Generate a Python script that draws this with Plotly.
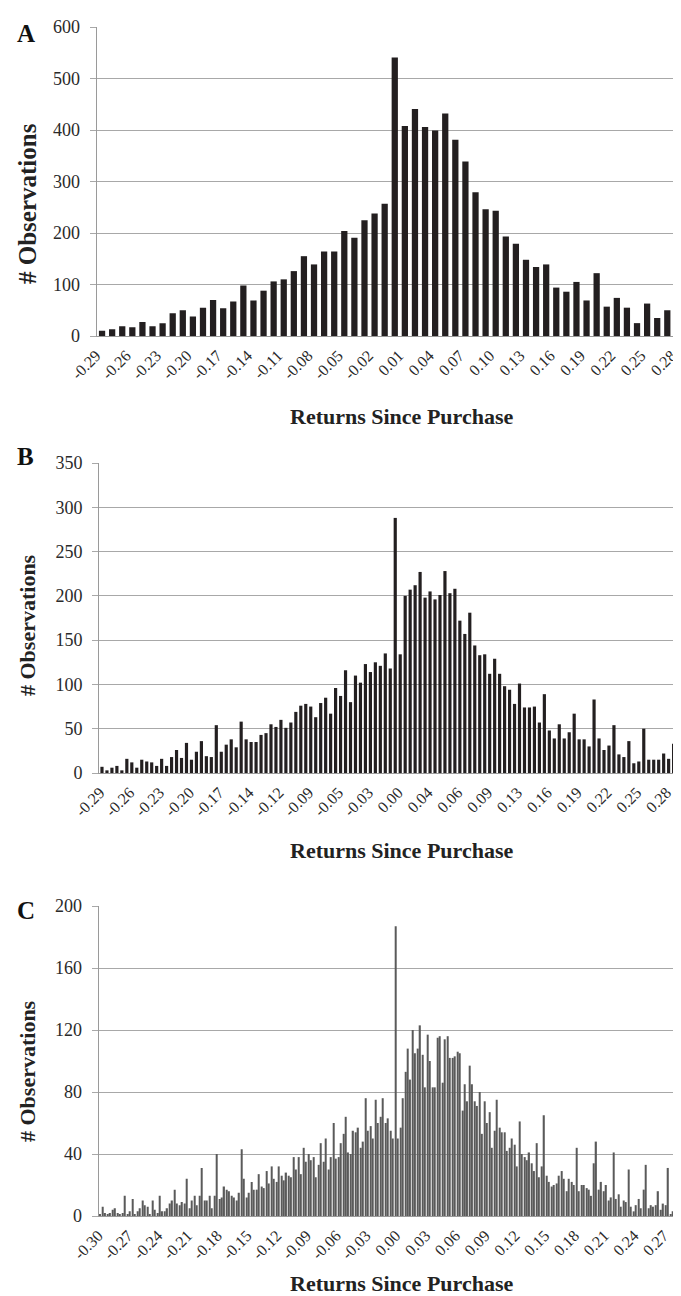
import plotly.graph_objects as go

# ---------------- data ----------------
A_bins = [f"{v / 100:.2f}" for v in range(-29, 30)]  # 59 bins, step 0.01
A_values = [10, 13, 19, 17, 27, 19, 25, 44, 50, 38,
            55, 70, 54, 67, 98, 69, 88, 106, 110, 126,
            155, 139, 164, 164, 204, 191, 225, 238, 257, 541,
            408, 441, 406, 399, 432, 381, 339, 279, 246, 243,
            193, 179, 148, 134, 139, 94, 86, 105, 69, 122,
            57, 74, 55, 25, 63, 35, 50, 14, 27]
A_ticks = A_bins[::3]
A_ticktext = A_bins[::3]

B_bins = [f"{-0.29 + 0.005 * i:.3f}" for i in range(119)]
B_values = [7, 3, 6, 8, 3, 16, 12, 6, 15, 13,
            12, 8, 16, 8, 18, 26, 17, 34, 15, 24,
            36, 19, 18, 54, 24, 32, 38, 29, 58, 38,
            35, 35, 43, 45, 55, 52, 60, 51, 57, 69,
            76, 78, 75, 63, 79, 85, 67, 96, 87, 116,
            80, 110, 102, 123, 114, 125, 121, 135, 118, 288,
            134, 200, 207, 212, 227, 198, 205, 196, 201, 228,
            203, 208, 172, 157, 181, 144, 133, 134, 112, 129,
            112, 98, 94, 78, 101, 74, 74, 75, 57, 89,
            48, 39, 55, 39, 46, 67, 38, 38, 30, 83,
            39, 26, 31, 54, 21, 18, 36, 11, 13, 50,
            15, 15, 15, 22, 16, 33, 5, 8, 19]
B_ticks = B_bins[::6]
B_ticktext = ["-0.29", "-0.26", "-0.23", "-0.20", "-0.17", "-0.14", "-0.12",
              "-0.09", "-0.05", "-0.03", "0.00", "0.04", "0.06", "0.09",
              "0.13", "0.16", "0.19", "0.22", "0.25", "0.28"]

C_bins = [f"{-0.30 + 0.0025 * i:.4f}" for i in range(238)]
C_values = [1, 6, 2, 1, 2, 4, 5, 2, 1, 2,
            13, 1, 3, 11, 1, 3, 5, 10, 7, 6,
            1, 10, 4, 2, 13, 3, 3, 5, 8, 10,
            17, 8, 7, 9, 8, 24, 5, 10, 13, 7,
            13, 31, 10, 10, 13, 5, 13, 40, 11, 12,
            19, 17, 16, 13, 12, 10, 15, 43, 24, 12,
            15, 22, 17, 17, 27, 19, 18, 29, 21, 32,
            24, 22, 32, 26, 23, 28, 26, 25, 38, 30,
            38, 27, 44, 35, 40, 36, 38, 25, 33, 47,
            35, 50, 30, 38, 60, 37, 38, 47, 53, 64,
            41, 40, 55, 54, 57, 44, 48, 76, 55, 58,
            50, 75, 60, 64, 76, 60, 63, 55, 50, 187,
            50, 57, 76, 93, 108, 88, 120, 105, 108, 123,
            104, 83, 117, 100, 83, 83, 115, 116, 86, 114,
            116, 102, 102, 103, 106, 105, 68, 85, 74, 97,
            85, 74, 71, 80, 53, 74, 60, 67, 44, 55,
            75, 57, 54, 54, 42, 44, 50, 46, 32, 61,
            40, 38, 36, 41, 34, 29, 47, 25, 32, 65,
            26, 22, 19, 20, 21, 26, 29, 24, 16, 24,
            22, 20, 44, 16, 20, 20, 18, 17, 13, 34,
            48, 17, 22, 16, 20, 10, 12, 41, 11, 14,
            6, 10, 9, 30, 6, 3, 7, 11, 5, 17,
            33, 5, 7, 6, 7, 16, 4, 8, 7, 31,
            1, 3, 2, 7, 14, 6, 5, 6]
C_ticks = C_bins[::12]
C_ticktext = ["-0.30", "-0.27", "-0.24", "-0.21", "-0.18", "-0.15", "-0.12",
              "-0.09", "-0.06", "-0.03", "0.00", "0.03", "0.06", "0.09",
              "0.12", "0.15", "0.18", "0.21", "0.24", "0.27"]

# ---------------- style ----------------
W, H = 681, 1296
FONT = "Liberation Serif, Times New Roman, serif"
BAR_DARK = "#231f20"
BAR_C = "#5a5a5a"
GRID = "#a8a8a8"
AXIS = "#9a9a9a"
TICKCOL = "#2a2a2a"


def py(pix):
    return 1 - pix / H


fig = go.Figure()
fig.add_trace(go.Bar(x=A_bins, y=A_values, marker=dict(color=BAR_DARK, line=dict(width=0)),
                     width=0.62, xaxis="x", yaxis="y", showlegend=False))
fig.add_trace(go.Bar(x=B_bins, y=B_values, marker=dict(color=BAR_DARK, line=dict(width=0)),
                     width=0.64, xaxis="x2", yaxis="y2", showlegend=False))
fig.add_trace(go.Bar(x=C_bins, y=C_values, marker=dict(color=BAR_C, line=dict(width=0)),
                     width=0.5, xaxis="x3", yaxis="y3", showlegend=False))


def xax(left_px, rng, tickvals, ticktext, anchor, shift):
    return dict(domain=[left_px / W, 1], anchor=anchor, type="category", range=rng,
                tickmode="array", tickvals=tickvals, ticktext=ticktext, tickangle=-45,
                tickfont=dict(family=FONT, size=16, color=TICKCOL),
                showgrid=False, showline=True, linecolor=AXIS, linewidth=1,
                ticks="outside", ticklen=3, tickcolor="rgba(0,0,0,0)",
                ticklabelshift=shift,
                zeroline=False, automargin=False, fixedrange=True)


def yax(top_px, bot_px, rng, dtick, anchor):
    return dict(domain=[py(bot_px), py(top_px)], anchor=anchor, range=rng, dtick=dtick,
                tickmode="linear", tick0=0,
                tickfont=dict(family=FONT, size=18, color=TICKCOL),
                showgrid=True, gridcolor=GRID, gridwidth=1,
                showline=True, linecolor=AXIS, linewidth=1,
                ticks="outside", ticklen=6, tickcolor=GRID, ticklabelstandoff=6,
                zeroline=False, automargin=False, fixedrange=True)


fig.update_layout(
    width=W, height=H,
    margin=dict(l=0, r=0, t=0, b=0),
    paper_bgcolor="white", plot_bgcolor="white",
    bargap=0.35,
    xaxis=xax(88.5, [-0.55, 58.15], A_ticks, A_ticktext, "y", -6),
    yaxis=yax(19, 328, [0, 600], 100, "x"),
    xaxis2=xax(91, [-0.6, 118.1], B_ticks, B_ticktext, "y2", -2),
    yaxis2=yax(455, 765, [0, 350], 50, "x2"),
    xaxis3=xax(90.7, [-0.65, 237.4], C_ticks, C_ticktext, "y3", -2),
    yaxis3=yax(898, 1208, [0, 200], 40, "x3"),
)

ann = []
for letter, ypix in [("A", 25), ("B", 449), ("C", 902)]:
    ann.append(dict(text=f"<b>{letter}</b>", x=17.5 / W, y=py(ypix), xref="paper", yref="paper",
                    xanchor="center", yanchor="middle", showarrow=False,
                    font=dict(family=FONT, size=25, color="#111")))
for ypix in [408, 843, 1275]:
    ann.append(dict(text="<b>Returns Since Purchase</b>", x=393 / W, y=py(ypix),
                    xref="paper", yref="paper", xanchor="center", yanchor="middle",
                    showarrow=False, font=dict(family=FONT, size=22, color="#222")))
for ypix, size in [(196, 25), (617, 22), (1063, 22)]:
    ann.append(dict(text="<b># Observations</b>", x=19 / W, y=py(ypix), xref="paper", yref="paper",
                    xanchor="center", yanchor="middle", textangle=-90, showarrow=False,
                    font=dict(family=FONT, size=size, color="#222")))
fig.update_layout(annotations=ann)

fig.write_html("out.html")
